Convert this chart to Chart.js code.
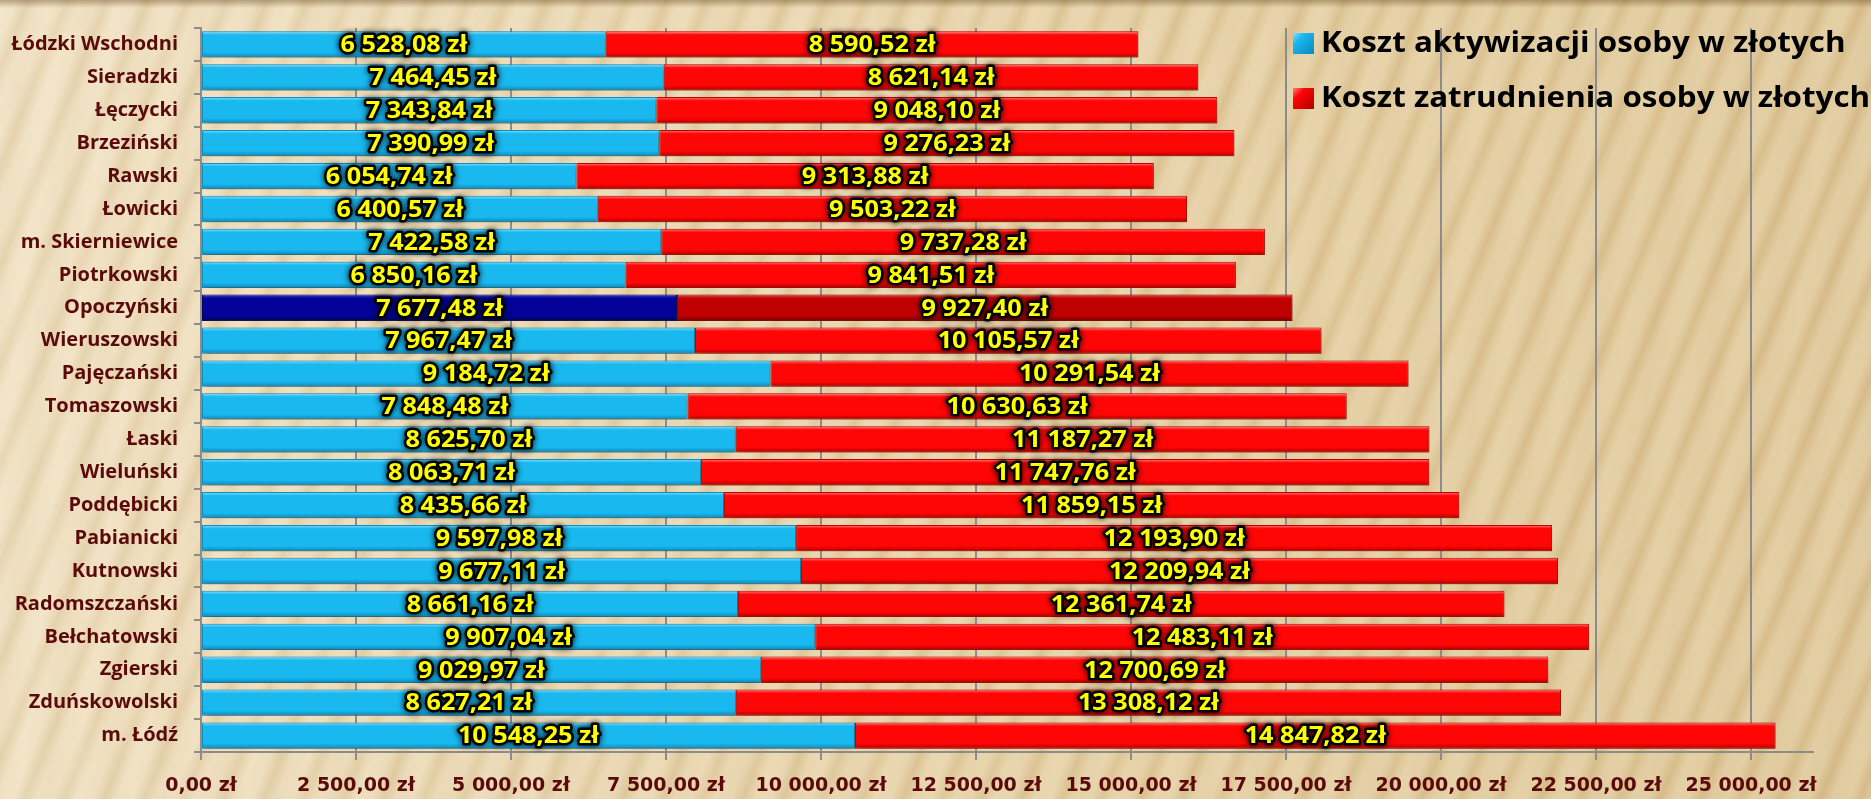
<html>
<head>
<script src="https://cdn.jsdelivr.net/npm/chart.js@4.4.0/dist/chart.umd.min.js"></script>
<style>
html, body { margin: 0; padding: 0; overflow: hidden; }
body {
  width: 1871px; height: 799px;
  background-color: #e2cb9e;
  background-image:
    linear-gradient(180deg, rgba(110,80,35,0.45) 0px, rgba(110,80,35,0) 8px),
    repeating-linear-gradient(112deg, rgba(255,248,228,0.22) 0px, rgba(255,248,228,0.22) 15px, rgba(180,140,80,0.10) 26px, rgba(255,248,228,0.22) 37px),
    repeating-linear-gradient(97deg, rgba(255,248,228,0) 0px, rgba(170,130,70,0.08) 31px, rgba(255,248,228,0) 57px),
    linear-gradient(100deg, #f0e1c3 0%, #e9d6b0 30%, #e2cb9d 65%, #dbc291 100%);
}
canvas { display: block; }
</style>
<script>

var categories = ['Łódzki Wschodni','Sieradzki','Łęczycki','Brzeziński','Rawski','Łowicki','m. Skierniewice',
  'Piotrkowski','Opoczyński','Wieruszowski','Pajęczański','Tomaszowski','Łaski','Wieluński','Poddębicki',
  'Pabianicki','Kutnowski','Radomszczański','Bełchatowski','Zgierski','Zduńskowolski','m. Łódź'];

var activationCost = [6528.08,7464.45,7343.84,7390.99,6054.74,6400.57,7422.58,6850.16,7677.48,7967.47,9184.72,
  7848.48,8625.70,8063.71,8435.66,9597.98,9677.11,8661.16,9907.04,9029.97,8627.21,10548.25];

var employmentCost = [8590.52,8621.14,9048.10,9276.23,9313.88,9503.22,9737.28,9841.51,9927.40,10105.57,10291.54,
  10630.63,11187.27,11747.76,11859.15,12193.90,12209.94,12361.74,12483.11,12700.69,13308.12,14847.82];

var seriesNames = ['Koszt aktywizacji osoby w złotych','Koszt zatrudnienia osoby w złotych'];
var highlighted = 'Opoczyński';

var axisMax = 26000;
var tickValues = [0,2500,5000,7500,10000,12500,15000,17500,20000,22500,25000];

function zl(v) {
  var parts = v.toFixed(2).split('.');
  var whole = parts[0].replace(/\B(?=(\d{3})+(?!\d))/g, ' ');
  return whole + ',' + parts[1] + ' zł';
}

// [top light, body, bottom dark]
var blueTones = ['#8ae0ff', '#19b8ef', '#0a88bd'];
var blueHiTones = ['#4040d8', '#03039a', '#00005a'];
var redTones = ['#ff8080', '#ff0606', '#b00000'];
var redHiTones = ['#e85050', '#c00000', '#780000'];

function bevel(tones, hiTones) {
  return function(c) {
    var chart = c.chart;
    var tn = categories[c.dataIndex] === highlighted ? hiTones : tones;
    var y = chart.scales.y;
    if (!y || !y.height) return tn[1];
    var cy = y.getPixelForValue(c.dataIndex);
    var half = y.height / categories.length * 0.8 / 2;
    var g = chart.ctx.createLinearGradient(0, cy - half, 0, cy + half);
    g.addColorStop(0, tn[0]);
    g.addColorStop(0.14, tn[1]);
    g.addColorStop(0.80, tn[1]);
    g.addColorStop(1, tn[2]);
    return g;
  };
}

// shadow under the bars
var barShadow = {
  id: 'barShadow',
  beforeDatasetsDraw(chart) {
    var ctx = chart.ctx;
    ctx.save();
    ctx.shadowColor = 'rgba(70,45,10,0.5)';
    ctx.shadowBlur = 6;
    ctx.shadowOffsetX = 2;
    ctx.shadowOffsetY = 3;
  },
  afterDatasetsDraw(chart) {
    chart.ctx.restore();
  }
};

// yellow value labels + legend
var labelsAndLegend = {
  id: 'labelsAndLegend',
  afterDraw(chart) {
    var ctx = chart.ctx;
    ctx.save();
    ctx.font = 'bold 24px "Open Sans"';
    ctx.textAlign = 'center';
    ctx.textBaseline = 'middle';
    ctx.lineJoin = 'round';
    chart.data.datasets.forEach(function(ds, di) {
      var meta = chart.getDatasetMeta(di);
      meta.data.forEach(function(bar, i) {
        var cx = (bar.x + bar.base) / 2;
        var txt = zl(ds.data[i]);
        ctx.save();
        ctx.translate(cx, bar.y + 1);
        ctx.scale(1.05, 1);
        ctx.shadowColor = 'rgba(0,0,0,0.95)';
        ctx.shadowBlur = 6;
        ctx.strokeStyle = '#000';
        ctx.lineWidth = 5;
        ctx.strokeText(txt, 0, 0);
        ctx.shadowBlur = 0;
        ctx.fillStyle = '#ffff00';
        ctx.fillText(txt, 0, 0);
        ctx.restore();
      });
    });
    ctx.restore();

    // legend
    ctx.save();
    var rows = [43, 98];
    var cols = [blueTones, redTones];
    ctx.font = 'bold 28px "Open Sans"';
    ctx.textBaseline = 'middle';
    rows.forEach(function(y, k) {
      var g = ctx.createLinearGradient(1293, y - 10, 1314, y + 11);
      g.addColorStop(0, cols[k][0]);
      g.addColorStop(0.3, cols[k][1]);
      g.addColorStop(1, cols[k][2]);
      ctx.fillStyle = g;
      ctx.fillRect(1293, y - 10, 21, 21);
      ctx.save();
      ctx.translate(1321, y + 1);
      ctx.scale(1.12, 1);
      ctx.fillStyle = '#000';
      ctx.fillText(chart.data.datasets[k].label, 0, 0);
      ctx.restore();
    });
    ctx.restore();
  }
};

function draw() {
  var ctx = document.getElementById('myChart').getContext('2d');
  var isHi = categories.map(c => c === highlighted);

  new Chart(ctx, {
    type: 'bar',
    data: {
      labels: categories,
      datasets: [
        {label: seriesNames[0], data: activationCost,
         backgroundColor: bevel(blueTones, blueHiTones),
         borderColor: isHi.map(h => h ? '#000066' : '#0c96cc'),
         borderWidth: 1, borderSkipped: false},
        {label: seriesNames[1], data: employmentCost,
         backgroundColor: bevel(redTones, redHiTones),
         borderColor: isHi.map(h => h ? '#8a0000' : '#c80000'),
         borderWidth: 1, borderSkipped: false}
      ]
    },
    options: {
      indexAxis: 'y',
      responsive: false,
      animation: false,
      barPercentage: 0.8,
      categoryPercentage: 1.0,
      layout: { padding: { top: 8, right: 58, left: 0, bottom: 0 } },
      plugins: { legend: { display: false }, tooltip: { enabled: false } },
      scales: {
        x: {
          stacked: true,
          min: 0, max: axisMax,
          afterFit: s => { s.height = 47; },
          afterBuildTicks: s => { s.ticks = tickValues.map(v => ({ value: v })); },
          grid: { color: '#8c8c8c', lineWidth: 2, tickLength: 8 },
          border: { color: '#8c8c8c', width: 2 },
          ticks: {
            autoSkip: false,
            maxRotation: 0,
            padding: 15,
            color: '#5a0a0a',
            font: { family: 'DejaVu Sans', weight: 'bold', size: 19 },
            callback: v => zl(v)
          }
        },
        y: {
          stacked: true,
          afterFit: s => { s.width = 201; },
          grid: { drawOnChartArea: false, color: '#8c8c8c', lineWidth: 2, tickLength: 7 },
          border: { color: '#8c8c8c', width: 2 },
          ticks: {
            padding: 16,
            color: '#5a0a0a',
            font: { family: 'Open Sans', weight: 'bold', size: 20 }
          }
        }
      }
    },
    plugins: [barShadow, labelsAndLegend]
  });
}
</script>
</head>
<body onload="draw()">
<canvas id="myChart" width="1871" height="799"></canvas>
</body>
</html>
